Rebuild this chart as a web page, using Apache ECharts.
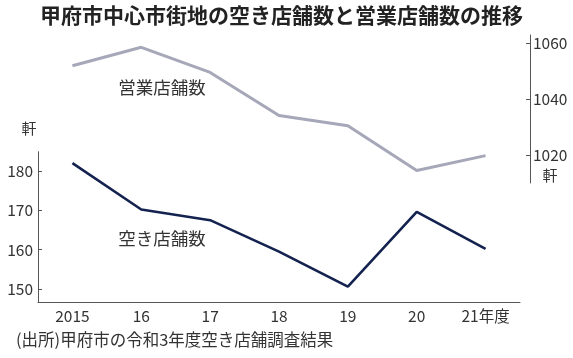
<!DOCTYPE html>
<html><head><meta charset="utf-8">
<script src="https://cdn.jsdelivr.net/npm/echarts@6/dist/echarts.min.js"></script>
<style>html,body{margin:0;padding:0;background:#fff;}#c{width:573px;height:358px;}</style>
</head><body><div id="c"></div>
<script>
const categories = ['2015','16','17','18','19','20','21年度'];
const vacantStores = [182, 170.2, 167.5, 159.5, 150.6, 169.6, 160.2];
const operatingStores = [1052, 1058.6, 1049.6, 1034.2, 1030.5, 1014.5, 1019.8];
const leftTicks = [150, 160, 170, 180];
const rightTicks = [1020, 1040, 1060];

const NUM = "'Noto Sans CJK JP',sans-serif";
const axisColor = '#555';
const chart = echarts.init(document.getElementById('c'), null, {renderer:'canvas'});
chart.setOption({
  animation:false,
  backgroundColor:'#fff',
  grid:[
    {left:38, right:53, top:151.7, bottom:56},
    {left:38, right:53, top:35, bottom:175}
  ],
  xAxis:[
    {type:'category', gridIndex:0, data:categories, boundaryGap:true,
     axisLine:{lineStyle:{color:axisColor,width:1}},
     axisTick:{inside:true, length:4, alignWithLabel:true, lineStyle:{color:axisColor}},
     axisLabel:{color:'#333', fontFamily:NUM, fontSize:15.5, margin:6, interval:0}},
    {type:'category', gridIndex:1, data:categories, boundaryGap:true, show:false}
  ],
  yAxis:[
    {type:'value', gridIndex:0, min:146.7, max:184.9,
     axisLine:{show:true, lineStyle:{color:axisColor,width:1}},
     axisTick:{show:true, inside:true, length:4, customValues:leftTicks, lineStyle:{color:axisColor}},
     axisLabel:{color:'#333', fontFamily:NUM, fontSize:15.5, margin:5, customValues:leftTicks,
                formatter:function(v){return String(v);}},
     splitLine:{show:false}},
    {type:'value', gridIndex:1, position:'right', offset:10, min:1010, max:1063,
     axisLine:{show:true, lineStyle:{color:axisColor,width:1}},
     axisTick:{show:true, inside:true, length:4, customValues:rightTicks, lineStyle:{color:axisColor}},
     axisLabel:{color:'#333', fontFamily:NUM, fontSize:15.5, margin:3, customValues:rightTicks,
                formatter:function(v){return String(v);}},
     splitLine:{show:false}}
  ],
  series:[
    {type:'line', xAxisIndex:0, yAxisIndex:0, data:vacantStores, symbol:'none',
     lineStyle:{color:'#14224f', width:2.6}, z:3},
    {type:'line', xAxisIndex:1, yAxisIndex:1, data:operatingStores, symbol:'none',
     lineStyle:{color:'#a6a7b8', width:3}, z:2}
  ],
  graphic:[
    {type:'text', left:40, top:5, style:{text:'甲府市中心市街地の空き店舗数と営業店舗数の推移', fill:'#222', font:"bold 21px 'Noto Sans CJK JP',sans-serif"}},
    {type:'text', x:162, y:87, style:{text:'営業店舗数', fill:'#333', font:"17.5px 'Noto Sans CJK JP',sans-serif", align:'center', verticalAlign:'middle'}},
    {type:'text', x:162, y:238, style:{text:'空き店舗数', fill:'#333', font:"17.5px 'Noto Sans CJK JP',sans-serif", align:'center', verticalAlign:'middle'}},
    {type:'text', x:29, y:128, style:{text:'軒', fill:'#333', font:"15px 'Noto Sans CJK JP',sans-serif", align:'center', verticalAlign:'middle'}},
    {type:'text', x:550, y:175, style:{text:'軒', fill:'#333', font:"15px 'Noto Sans CJK JP',sans-serif", align:'center', verticalAlign:'middle'}},
    {type:'text', x:16, y:340, style:{text:'(出所)甲府市の令和3年度空き店舗調査結果', fill:'#333', font:"16.5px 'Noto Sans CJK JP',sans-serif", align:'left', verticalAlign:'middle'}}
  ]
});
</script></body></html>
